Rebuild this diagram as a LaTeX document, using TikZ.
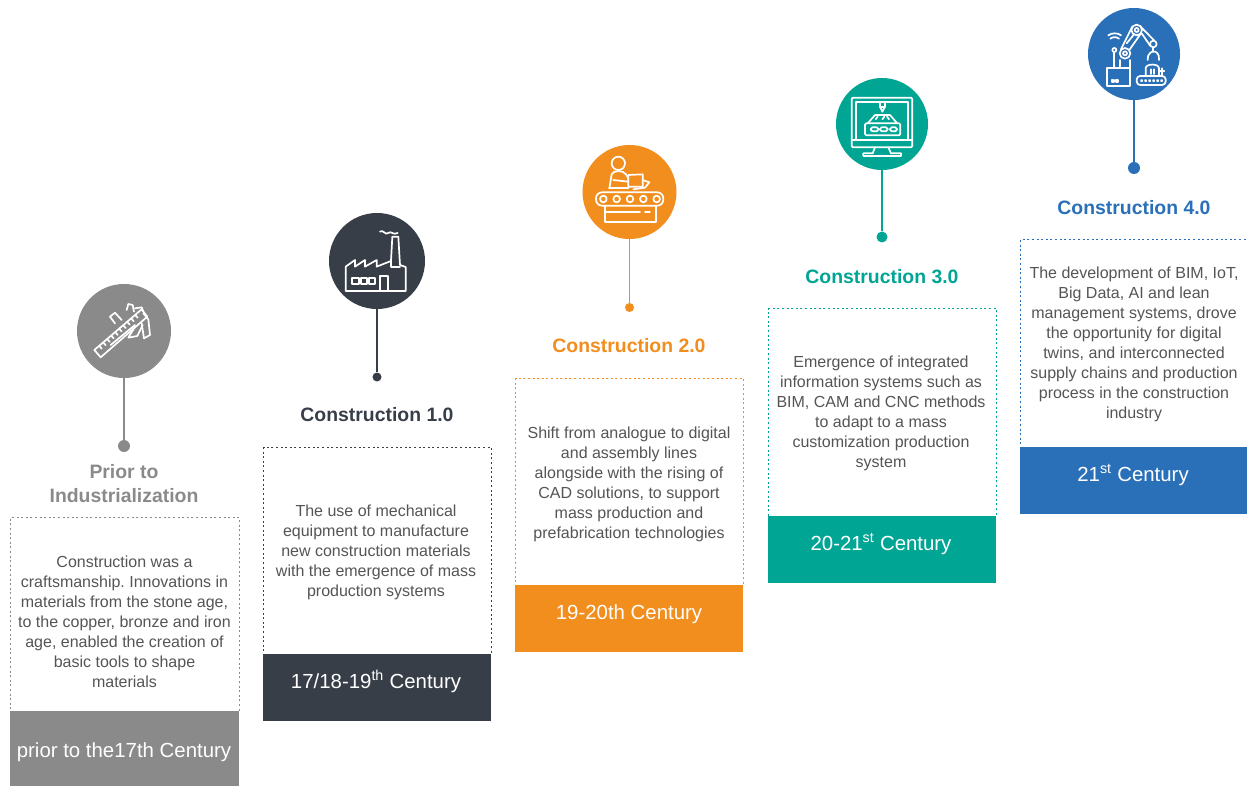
\documentclass[tikz,border=0pt]{standalone}
\usepackage{fontspec}
\setmainfont{Liberation Sans}
\frenchspacing
\definecolor{cgray}{HTML}{8A8A8A}
\definecolor{cdark}{HTML}{383E48}
\definecolor{corange}{HTML}{F28E1E}
\definecolor{cteal}{HTML}{00A594}
\definecolor{cblue}{HTML}{2A70B8}
\definecolor{ctext}{HTML}{555555}
\tikzset{
  icondisc/.style={circle,fill=#1,minimum size=94pt,inner sep=0pt},
  stem/.style={draw=#1,line width=1.3pt},
  pin/.style={circle,fill=#1,inner sep=0pt,minimum size=10pt},
  heading/.style={text=#1,font=\fontsize{19.4}{24}\selectfont\bfseries,align=center,inner sep=0pt},
  bodytext/.style={text=ctext,font=\fontsize{16}{20}\selectfont,align=center,inner sep=0pt},
  framebox/.style={draw=#1,line width=1.1pt,dash pattern=on 2pt off 2.6pt,inner sep=0pt,anchor=north west},
  bandbox/.style={fill=#1,inner sep=0pt,anchor=north west,minimum height=67pt},
  bandtext/.style={text=white,font=\fontsize{20.4}{24}\selectfont,inner sep=0pt,anchor=base},
  glyph/.style={draw=white,line width=1.7pt,line join=round,line cap=round},
  glyphscale/.style={x=0.3333pt,y=-0.3333pt}
}
\begin{document}
\begin{tikzpicture}[x=1pt,y=-1pt]
\useasboundingbox (0,0) rectangle (1247,786);
\fill[white] (0,0) rectangle (1247,786);

% Frames
\node[framebox=cgray,minimum width=229pt,minimum height=194pt] (f0) at (10,517) {};
\node[framebox=cdark,minimum width=228pt,minimum height=207pt] (f1) at (263,447) {};
\node[framebox=corange,minimum width=228pt,minimum height=207pt] (f2) at (515,378) {};
\node[framebox=cteal,minimum width=228pt,minimum height=208pt] (f3) at (768,308) {};
\node[framebox=cblue,minimum width=227pt,minimum height=208pt] (f4) at (1020,239) {};

% Bands
\node[bandbox=cgray,minimum width=229pt,minimum height=75pt] (b0) at (10,711) {};
\node[bandbox=cdark,minimum width=228pt] (b1) at (263,654) {};
\node[bandbox=corange,minimum width=228pt] (b2) at (515,585) {};
\node[bandbox=cteal,minimum width=228pt] (b3) at (768,516) {};
\node[bandbox=cblue,minimum width=227pt] (b4) at (1020,447) {};
\node[bandtext] (l0) at (124,757) {prior to the17th Century};
\node[bandtext] (l1) at (376,688) {17/18-19\textsuperscript{th} Century};
\node[bandtext] (l2) at (629,619) {19-20th Century};
\node[bandtext] (l3) at (881,550) {20-21\textsuperscript{st} Century};
\node[bandtext] (l4) at (1133,481) {21\textsuperscript{st} Century};

% Body text
\node[bodytext] (t0) at (124.5,622) {Construction was a\\craftsmanship. Innovations in\\materials from the stone age,\\to the copper, bronze and iron\\age, enabled the creation of\\basic tools to shape\\materials};
\node[bodytext] (t1) at (376,552) {The use of mechanical\\equipment to manufacture\\new construction materials\\with the emergence of mass\\production systems};
\node[bodytext] (t2) at (629,484) {Shift from analogue to digital\\and assembly lines\\alongside with the rising of\\CAD solutions, to support\\mass production and\\prefabrication technologies};
\node[bodytext] (t3) at (881,413) {Emergence of integrated\\information systems such as\\BIM, CAM and CNC methods\\to adapt to a mass\\customization production\\system};
\node[bodytext] (t4) at (1134,344) {The development of BIM, IoT,\\Big Data, AI and lean\\management systems, drove\\the opportunity for digital\\twins, and interconnected\\supply chains and production\\process in the construction\\industry};

% Headings
\node[heading=cgray] (h0) at (124,484) {Prior to\\Industrialization};
\node[heading=cdark] (h1) at (377,415) {Construction 1.0};
\node[heading=corange] (h2) at (629,346) {Construction 2.0};
\node[heading=cteal] (h3) at (882,277) {Construction 3.0};
\node[heading=cblue] (h4) at (1134,208) {Construction 4.0};

% Discs
\node[icondisc=cgray] (c0) at (124,331) {};
\node[icondisc=cdark,minimum size=96pt] (c1) at (377,261) {};
\node[icondisc=corange] (c2) at (629.5,192) {};
\node[icondisc=cteal,minimum size=92pt] (c3) at (882,124) {};
\node[icondisc=cblue,minimum size=92pt] (c4) at (1134,54) {};

% Pins and stems
\node[pin=cgray,minimum size=12pt] (p0) at (124,446) {};
\node[pin=cdark,minimum size=9pt] (p1) at (377,377) {};
\node[pin=corange,minimum size=9pt] (p2) at (629.5,307.5) {};
\node[pin=cteal,minimum size=11pt] (p3) at (882,237) {};
\node[pin=cblue,minimum size=12pt] (p4) at (1134,168) {};
\draw[stem=cgray] (c0) -- (p0);
\draw[stem=cdark] (c1) -- (p1);
\draw[stem=corange] (c2) -- (p2);
\draw[stem=cteal] (c3) -- (p3);
\draw[stem=cblue] (c4) -- (p4);

% Caliper icon
\begin{scope}[shift={(60,270)},glyphscale,glyph]
  \draw (103,240) -- (245,118) -- (262,140) -- (122,262) -- cycle;
  \foreach \k in {0,...,9} {
    \draw ({118+\k*12},{228-\k*10.3}) -- ({125+\k*12},{236-\k*10.3});
  }
  \draw (152,225) -- (225,165);
  \draw (150,140) -- (165,128) -- (185,150);
  \draw (150,140) -- (165,160);
  \draw (200,120) -- (205,102) -- (218,105) -- (222,125);
  \draw (225,115) -- (245,112) -- (250,125);
  \draw (225,170) -- (205,203) -- (232,198) -- (248,165);
  \draw (245,160) -- (252,205) -- (270,195) -- (265,148) -- (250,130);
\end{scope}

% Factory icon
\begin{scope}[shift={(315,205)},glyphscale,glyph]
  \draw (92,258) -- (92,185) -- (120,165) -- (120,185) -- (150,165) -- (150,185) -- (185,165) -- (185,185) -- (228,168) -- (232,95) -- (250,95) -- (255,180) -- (272,186) -- (272,258) -- cycle;
  \draw (228,168) -- (228,185) -- (255,185);
  \draw (195,80) .. controls (205,72) and (210,92) .. (220,84) .. controls (228,76) and (235,92) .. (248,84);
  \draw (110,220) rectangle (131,238);
  \draw (137,220) rectangle (155,238);
  \draw (161,220) rectangle (180,238);
  \draw (195,258) -- (195,213) -- (220,213) -- (220,258);
\end{scope}

% Conveyor worker icon
\begin{scope}[shift={(570,135)},glyphscale,glyph]
  \draw (145,85) circle (20);
  \draw (118,160) -- (125,118) .. controls (130,105) and (160,105) .. (168,118) -- (175,130);
  \draw (130,135) -- (175,140);
  \draw (118,160) -- (175,160);
  \draw (175,120) -- (218,118) -- (218,155) -- (175,155) -- cycle;
  \draw (218,135) -- (238,142) -- (225,158) -- (190,163);
  \draw[rounded corners=6pt] (78,172) rectangle (280,212);
  \foreach \k in {100,140,180,220,260} { \draw (\k,192) circle (10); }
  \draw (105,212) -- (105,260) -- (258,260) -- (258,212);
  \draw (105,232) -- (210,232);
  \draw (225,232) -- (240,232);
\end{scope}

% Monitor icon
\begin{scope}[shift={(825,70)},glyphscale,glyph]
  \draw[rounded corners=1.3pt] (80,83) rectangle (262,232);
  \draw (93,95) rectangle (248,210);
  \draw (80,210) -- (93,210);
  \draw (248,210) -- (262,210);
  \draw (150,232) -- (143,250) -- (115,250) -- (115,258) -- (228,258) -- (228,250) -- (198,250) -- (190,232);
  \draw (165,96) -- (165,110) -- (180,110) -- (180,96);
  \draw (165,110) -- (172,125) -- (180,110);
  \draw (130,158) -- (150,135) -- (195,135) -- (215,158);
  \draw[rounded corners=1.3pt] (120,160) rectangle (226,196);
  \draw (152,148) -- (158,140);
  \draw (172,148) -- (178,140);
  \draw (192,148) -- (186,140);
  \draw[rounded corners=1.7pt] (137,172) rectangle (160,184);
  \draw[rounded corners=1.7pt] (165,172) rectangle (188,184);
  \draw[rounded corners=1.7pt] (195,172) rectangle (216,184);
\end{scope}

% Robot arm icon
\begin{scope}[shift={(1075,0)},glyphscale,glyph]
  \draw (100,106) .. controls (110,98) and (128,98) .. (138,106);
  \draw (106,116) .. controls (113,110) and (125,110) .. (132,116);
  \draw (118,150) circle (6);
  \draw (118,156) -- (118,205);
  \draw (95,205) rectangle (165,258);
  \draw (112,240) rectangle (118,246);
  \draw (124,240) rectangle (130,246);
  \draw (135,205) -- (135,180);
  \draw (165,205) -- (165,180);
  \draw (150,160) circle (16);
  \draw (150,160) circle (6);
  \draw (185,90) circle (16);
  \draw (185,90) circle (6);
  \draw (138,148) -- (172,80);
  \draw (163,150) -- (198,100);
  \draw (155,130) -- (178,102);
  \draw (195,78) -- (238,122);
  \draw (200,100) -- (226,138);
  \draw (235,132) circle (10);
  \draw (235,142) -- (235,155);
  \draw (218,180) .. controls (215,160) and (235,152) .. (235,155) .. controls (240,152) and (255,160) .. (252,180);
  \draw[rounded corners=3.5pt] (185,228) rectangle (272,255);
  \foreach \k in {200,212,224,236,248,260} { \draw (\k,242) circle (2); }
  \draw (212,228) -- (212,205) .. controls (212,190) and (252,190) .. (252,205) -- (252,228);
  \draw (228,208) -- (228,222);
  \draw (238,208) -- (238,222);
  \draw (252,212) -- (268,212);
  \draw (260,205) -- (260,228);
\end{scope}
\end{tikzpicture}
\end{document}
